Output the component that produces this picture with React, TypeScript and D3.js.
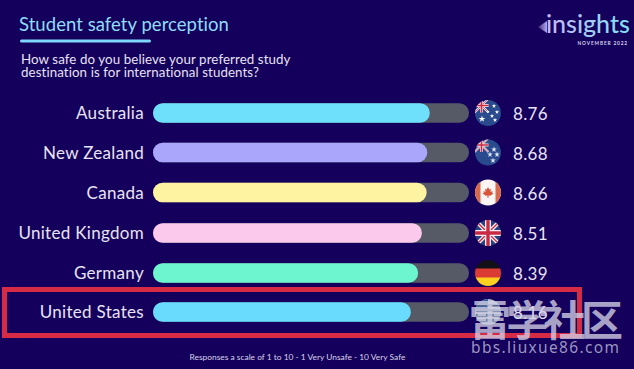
import React from "react";
import * as d3 from "d3";

const countries = ["Australia", "New Zealand", "Canada", "United Kingdom", "Germany", "United States"];
const scores = [8.76, 8.68, 8.66, 8.51, 8.39, 8.16];
const scoreLabels = ["8.76", "8.68", "8.66", "8.51", "8.39", "8.16"];
const barColors = ["#6fe0fb", "#a9a6fb", "#fdf3a0", "#fbc9ec", "#6cf5cf", "#69dcfd"];
const rowCentres = [113, 152.5, 192.5, 233, 273, 312];
const flagKeys = ["au", "nz", "ca", "uk", "de", "us"];

const BG = "#14005c";
const FONT = "Lato, 'Noto Sans', sans-serif";

const x = d3.scaleLinear().domain([0, 10]).range([153, 469]);

function Stars({ pts, color = "#fff" }: { pts: number[][]; color?: string }) {
  const star = d3.symbol().type(d3.symbolStar);
  return <g>{pts.map((p, i) => <path key={i} d={star.size(p[2])() as string} transform={`translate(${p[0]},${p[1]})`} fill={color} />)}</g>;
}

function UnionJack() {
  return (
    <g>
      <path d="M-14,-14 L0,0 M14,-14 L0,0 M-14,14 L0,0 M14,14 L0,0" stroke="#f4eef2" strokeWidth={4} />
      <path d="M-14,-14 L0,0 M14,-14 L0,0 M-14,14 L0,0 M14,14 L0,0" stroke="#c92a44" strokeWidth={1.4} />
      <path d="M0,-14 V14 M-14,0 H14" stroke="#f4eef2" strokeWidth={6} />
      <path d="M0,-14 V14 M-14,0 H14" stroke="#c92a44" strokeWidth={3.4} />
    </g>
  );
}

function Flag({ kind, cy }: { kind: string; cy: number }) {
  const id = `clip-${kind}`;
  let body: React.ReactNode = null;
  if (kind === "au" || kind === "nz") {
    body = (
      <g>
        <rect x={-14} y={-14} width={28} height={28} fill="#2a4a8e" />
        <g transform="translate(-6.5,-7.5) scale(0.5)"><UnionJack /></g>
        {kind === "au"
          ? <Stars pts={[[-6, 6, 14], [6, -7, 6], [9, -1, 6], [4, 3, 6], [7, 7, 6], [0, -1, 3]]} />
          : <Stars pts={[[6, -3, 10], [2, 2, 10], [9, 2, 10], [5, 8, 10]]} color="#dfe4f6" />}
      </g>
    );
  } else if (kind === "ca") {
    body = (
      <g>
        <rect x={-14} y={-14} width={28} height={28} fill="#fbf6f3" />
        <rect x={-14} y={-14} width={6.5} height={28} fill="#d9694c" />
        <rect x={7.5} y={-14} width={6.5} height={28} fill="#d9694c" />
        <path d="M0,-5.5 L1.3,-3 L3,-3.6 L2.4,-0.5 L4.6,-1.4 L4.2,0.4 L5.5,1 L2.2,3.2 L0.5,3 V5.5 H-0.5 V3 L-2.2,3.2 L-5.5,1 L-4.2,0.4 L-4.6,-1.4 L-2.4,-0.5 L-3,-3.6 L-1.3,-3 Z" fill="#d9553a" />
      </g>
    );
  } else if (kind === "uk") {
    body = (
      <g>
        <rect x={-14} y={-14} width={28} height={28} fill="#2b3f7e" />
        <UnionJack />
      </g>
    );
  } else if (kind === "de") {
    body = (
      <g>
        <rect x={-14} y={-14} width={28} height={10} fill="#141018" />
        <rect x={-14} y={-4.5} width={28} height={9.5} fill="#dc3b34" />
        <rect x={-14} y={4.5} width={28} height={10} fill="#fbd020" />
      </g>
    );
  } else {
    body = (
      <g>
        <rect x={-14} y={-14} width={28} height={28} fill="#b9bed0" />
        <rect x={-14} y={-14} width={14} height={13} fill="#3a5f9f" />
        {[-8, -3, 2, 7, 12].map((o) => <rect key={o} x={-14} y={o} width={28} height={2.5} fill="#56688f" />)}
      </g>
    );
  }
  return (
    <g transform={`translate(488,${cy})`}>
      <clipPath id={id}><circle r={13} /></clipPath>
      <g clipPath={`url(#${id})`}>{body}</g>
    </g>
  );
}

export default function App() {
  const h = 19.5;
  return (
    <svg width={634} height={369} viewBox="0 0 634 369" style={{ position: "fixed", left: 0, top: 0, display: "block", background: BG }} fontFamily={FONT}>
      <defs>
        <linearGradient id="logo" x1="0" x2="1" y1="0" y2="0">
          <stop offset="0" stopColor="#c9b6f2" />
          <stop offset="1" stopColor="#7fe2f5" />
        </linearGradient>
        <linearGradient id="tri" x1="0" x2="1" y1="0" y2="0">
          <stop offset="0" stopColor="#3a2a7c" />
          <stop offset="1" stopColor="#b9a8ea" />
        </linearGradient>
      </defs>
      <rect width={634} height={369} fill={BG} />

      <text x={19} y={31} fontSize={18.5} fill="#8fdcf7" letterSpacing={0.05}>Student safety perception</text>
      <rect x={20} y={39.5} width={131} height={3} rx={1.5} fill="#7fd8fb" />
      <text x={21} y={64} fontSize={13.3} fill="#e6e2f2" letterSpacing={0.1}>How safe do you believe your preferred study</text>
      <text x={21} y={76.5} fontSize={13.3} fill="#e6e2f2" letterSpacing={0.1}>destination is for international students?</text>

      <path d="M538,27 L547,21 V33 Z" fill="url(#tri)" />
      <text x={546} y={33} fontSize={25} fill="url(#logo)" fontWeight={500}>insights</text>
      <text x={628} y={45} fontSize={4.8} fill="#d8d2ee" textAnchor="end" letterSpacing={0.85} fontWeight={700}>NOVEMBER 2022</text>

      {countries.map((c, i) => {
        const cy = rowCentres[i];
        return (
          <g key={c}>
            <rect x={x(0)} y={cy - h / 2} width={x(10) - x(0)} height={h} rx={h / 2} fill="#565a66" />
            <rect x={x(0)} y={cy - h / 2} width={x(scores[i]) - x(0)} height={h} rx={h / 2} fill={barColors[i]} />
            <text x={144} y={cy + 6} fontSize={17} fill="#e8e4f4" textAnchor="end" letterSpacing={0.3}>{c}</text>
            <Flag kind={flagKeys[i]} cy={cy} />
            <text x={513} y={cy + 7} fontSize={17} fill="#e8e4f4" letterSpacing={0.3}>{scoreLabels[i]}</text>
          </g>
        );
      })}

      <text x={297.5} y={360} fontSize={8.4} fill="#d8d4ea" textAnchor="middle">Responses a scale of 1 to 10 - 1 Very Unsafe - 10 Very Safe</text>

      <rect x={4.5} y={289.5} width={575} height={46} fill="none" stroke="#d62b45" strokeWidth={5} />

      <text x={469} y={336} fontSize={42} fill="#d2d0e6" fillOpacity={0.8} fontWeight={700} fontFamily="'Noto Sans CJK SC', sans-serif" textLength={154}>雷学社区</text>
      <text x={471} y={353} fontSize={15.5} fill="#b6b2d4" fillOpacity={0.85} fontFamily="'Noto Sans', sans-serif" textLength={148}>bbs.liuxue86.com</text>
    </svg>
  );
}
